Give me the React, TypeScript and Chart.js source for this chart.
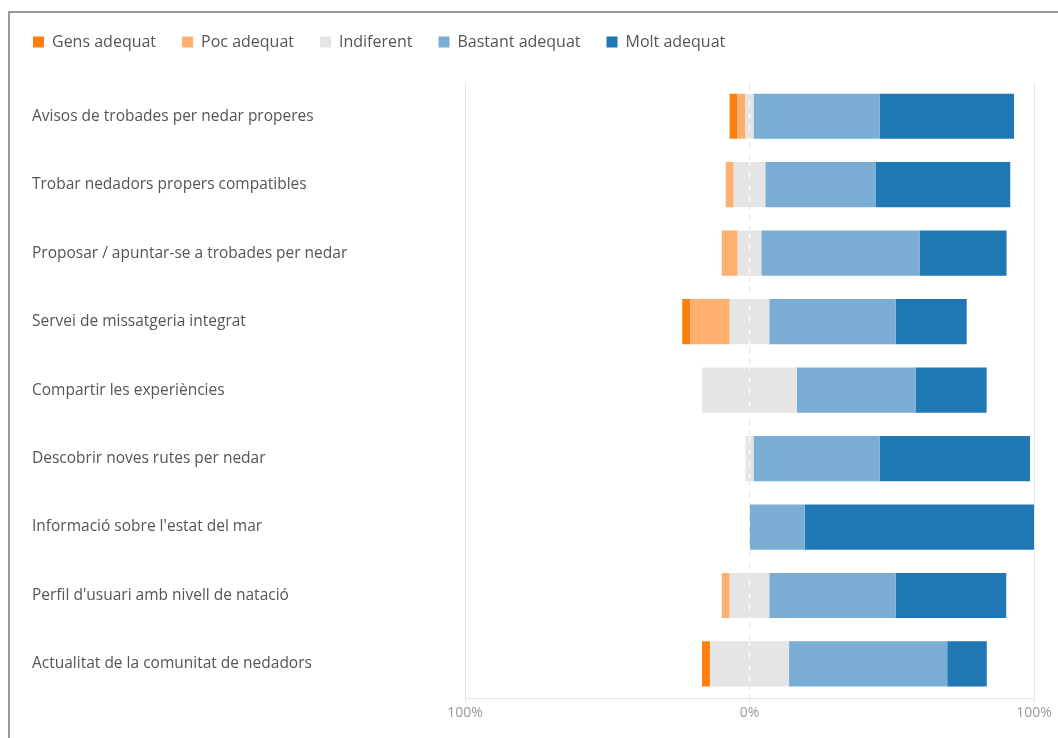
import React, { useEffect, useRef } from "react";
import { Chart, registerables } from "chart.js";

Chart.register(...registerables);

const categories = [
  "Avisos de trobades per nedar properes",
  "Trobar nedadors propers compatibles",
  "Proposar / apuntar-se a trobades per nedar",
  "Servei de missatgeria integrat",
  "Compartir les experiències",
  "Descobrir noves rutes per nedar",
  "Informació sobre l'estat del mar",
  "Perfil d'usuari amb nivell de natació",
  "Actualitat de la comunitat de nedadors",
];

const seriesLabels = ["Gens adequat", "Poc adequat", "Indiferent", "Bastant adequat", "Molt adequat"];

// percentages of respondents
const gens = [2.8, 0, 0, 2.8, 0, 0, 0, 0, 2.8];
const poc = [2.8, 2.8, 5.6, 13.9, 0, 0, 0, 2.8, 0];
const indiferent = [2.8, 11.1, 8.3, 13.9, 33.3, 2.8, 0, 13.9, 27.8];
const bastant = [44.4, 38.9, 55.6, 44.4, 41.7, 44.4, 19.4, 44.4, 55.6];
const molt = [47.2, 47.2, 30.6, 25.0, 25.0, 52.8, 80.6, 38.9, 13.9];

const xTicks = [-100, 0, 100];

const colors = {
  gens: "#ff7f0e",
  poc: "#ffb06e",
  indif: "#e5e5e5",
  bastant: "#7aadd3",
  molt: "#1f77b4",
};

const FONT = "'Open Sans', 'Noto Sans', sans-serif";

export default function App() {
  const ref = useRef<HTMLCanvasElement | null>(null);

  useEffect(() => {
    if (!ref.current) return;
    const legendOrder = seriesLabels;
    const chart = new Chart(ref.current, {
      type: "bar",
      data: {
        labels: categories,
        datasets: [
          { label: "Indiferent_neg", data: indiferent.map((v) => -v / 2), backgroundColor: colors.indif },
          { label: "Indiferent", data: indiferent.map((v) => v / 2), backgroundColor: colors.indif },
          { label: "Poc adequat", data: poc.map((v) => -v), backgroundColor: colors.poc },
          { label: "Gens adequat", data: gens.map((v) => -v), backgroundColor: colors.gens },
          { label: "Bastant adequat", data: bastant, backgroundColor: colors.bastant },
          { label: "Molt adequat", data: molt, backgroundColor: colors.molt },
        ],
      },
      options: {
        indexAxis: "y",
        animation: false,
        responsive: true,
        maintainAspectRatio: false,
        layout: { padding: { left: 32, top: 30, right: 24, bottom: 15 } },
        datasets: {
          bar: { categoryPercentage: 1, barPercentage: 0.66, borderWidth: 0 },
        },
        plugins: {
          tooltip: { enabled: false },
          legend: {
            position: "top",
            align: "start",
            onClick: () => {},
            labels: {
              boxWidth: 11,
              boxHeight: 11,
              padding: 26,
              color: "#555",
              font: { family: FONT, size: 16 },
              filter: (item) => item.text !== "Indiferent_neg",
              sort: (a, b) => legendOrder.indexOf(a.text) - legendOrder.indexOf(b.text),
            },
          },
        },
        scales: {
          x: {
            stacked: true,
            min: -100,
            max: 100,
            afterBuildTicks: (scale) => {
              scale.ticks = xTicks.map((v) => ({ value: v }));
            },
            ticks: {
              color: "#999",
              font: { family: FONT, size: 14 },
              padding: 2,
              callback: (v) => Math.abs(Number(v)) + "%",
            },
            grid: { color: "#e6e6e6", lineWidth: 1, tickLength: 4 },
            border: {
              display: true,
              color: "#e6e6e6",
              dash: (ctx: any) => (ctx.tick && ctx.tick.value === 0 ? [7, 5] : []),
            },
          },
          y: {
            stacked: true,
            grid: { display: false },
            border: { display: false },
            ticks: {
              crossAlign: "far",
              color: "#555",
              font: { family: FONT, size: 15.5 },
            },
            afterFit: (scale) => {
              scale.width = 433;
            },
          },
        },
      },
      plugins: [
        {
          id: "legendShift",
          afterLayout: (c: any) => {
            if (c.legend) {
              c.legend.left = 7;
              c.legend.top = 8;
            }
          },
        },
      ],
    });
    return () => chart.destroy();
  }, []);

  return (
    <>
      <div
        style={{
          position: "fixed",
          left: 8,
          top: 11,
          width: 1200,
          height: 900,
          borderLeft: "2px solid #999",
          borderTop: "2px solid #999",
          boxSizing: "border-box",
        }}
      />
      <div style={{ position: "fixed", left: 0, top: 0, width: 1058, height: 738 }}>
        <canvas ref={ref} />
      </div>
    </>
  );
}
